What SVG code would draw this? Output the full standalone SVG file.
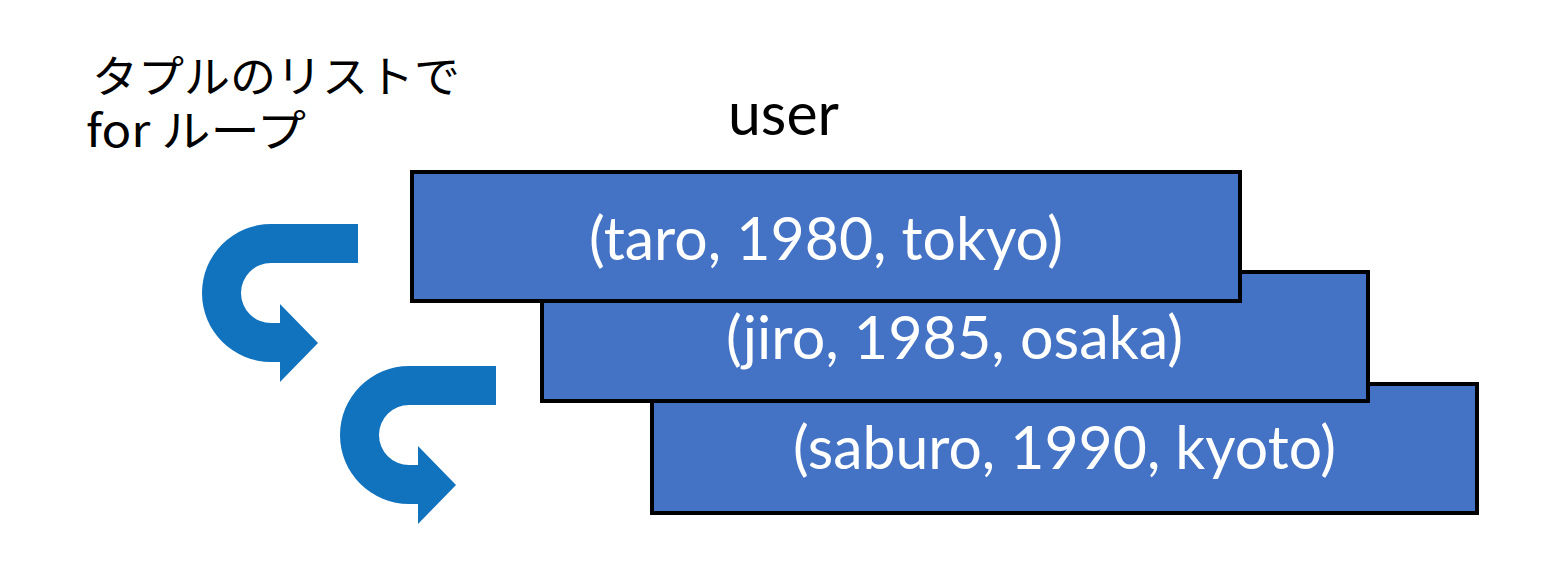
<svg xmlns="http://www.w3.org/2000/svg" width="1546" height="562" viewBox="0 0 1546 562">
  <style>
    .rec { fill: #4472C4; stroke: #000000; stroke-width: 4; }
    .tup { font-family: Lato, "Open Sans", sans-serif; font-size: 60px; fill: #FFFFFF; }
    .lbl { font-family: Lato, "Open Sans", sans-serif; font-size: 60px; fill: #000000; }
    .jp { font-family: "Noto Sans CJK JP", "Noto Sans", sans-serif; font-size: 44px; fill: #000000; }
    .arr { fill: #1172BD; }
  </style>
  <defs>
    <path id="loop" d="M358,224 L271,224 A69,69 0 0 0 271,362 L280,362 L280,382 L318,343 L280,304 L280,323 L271,323 A30,30 0 0 1 271,263 L358,263 Z"/>
  </defs>
  <rect width="1546" height="562" fill="#FFFFFF"/>

  <g id="caption">
    <text class="jp" x="92" y="93" textLength="368" lengthAdjust="spacingAndGlyphs">タプルのリストで</text>
    <text class="jp" x="86" y="147" textLength="220" lengthAdjust="spacingAndGlyphs">for ループ</text>
  </g>

  <g id="title">
    <text class="lbl" x="728" y="135" textLength="111" lengthAdjust="spacingAndGlyphs">user</text>
  </g>

  <g id="connectors">
    <use href="#loop" class="arr"/>
    <use href="#loop" class="arr" transform="translate(138,142)"/>
  </g>

  <g id="row-saburo">
    <rect class="rec" x="652" y="384" width="825" height="129"/>
    <text class="tup" x="793" y="469" textLength="543" lengthAdjust="spacingAndGlyphs">(saburo, 1990, kyoto)</text>
  </g>

  <g id="row-jiro">
    <rect class="rec" x="542" y="272" width="826" height="129"/>
    <text class="tup" x="726" y="359" textLength="457" lengthAdjust="spacingAndGlyphs">(jiro, 1985, osaka)</text>
  </g>

  <g id="row-taro">
    <rect class="rec" x="412" y="172" width="828" height="129"/>
    <text class="tup" x="589" y="260" textLength="474" lengthAdjust="spacingAndGlyphs">(taro, 1980, tokyo)</text>
  </g>
</svg>
